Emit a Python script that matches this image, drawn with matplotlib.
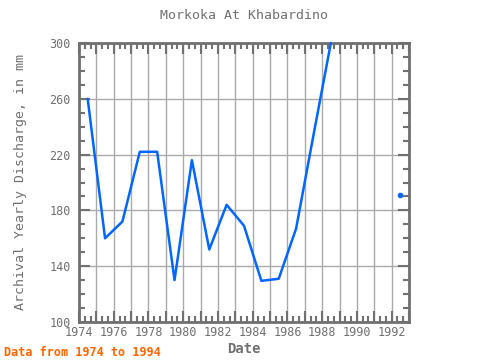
import numpy as np
import matplotlib
matplotlib.use("Agg")
from matplotlib import pyplot as plt
from matplotlib.ticker import MultipleLocator

# yearly values, plotted at mid-year
years = [1974, 1975, 1976, 1977, 1978, 1979, 1980, 1981, 1982, 1983,
         1984, 1985, 1986, 1987, 1988, 1989, 1990, 1991, 1992]
discharge = [260, 160, 172, 222, 222, 130, 216, 152, 184, 169,
             129.5, 131, 167, 234, 300, np.nan, np.nan, np.nan, 191]

x_ticks = [1974, 1976, 1978, 1980, 1982, 1984, 1986, 1988, 1990, 1992]
y_ticks = [100, 140, 180, 220, 260, 300]

gray = '#707070'
blue = '#0066ff'
plt.rcParams['font.family'] = ['DejaVu Sans Mono']

fig = plt.figure(figsize=(4.8, 3.6), dpi=100)
ax = fig.add_axes([79/480, 1 - 322/360, 330/480, 279/360])

x = np.array(years) + 0.5
y = np.array(discharge, dtype=float)
ax.plot(x, y, color=blue, linewidth=1.8, solid_capstyle='round', clip_on=False, zorder=3)

# isolated values get a dot
for i in range(len(y)):
    left = np.isnan(y[i-1]) if i > 0 else True
    right = np.isnan(y[i+1]) if i < len(y) - 1 else True
    if not np.isnan(y[i]) and left and right:
        ax.plot(x[i], y[i], 'o', color=blue, markersize=3, zorder=3)

ax.set_xlim(1974, 1993)
ax.set_ylim(100, 300)
ax.set_xticks(range(1974, 1994))
ax.set_xticklabels([str(t) if t in x_ticks else '' for t in range(1974, 1994)])
ax.xaxis.set_minor_locator(MultipleLocator(1/3))
ax.set_yticks(y_ticks)
ax.yaxis.set_minor_locator(MultipleLocator(10))

ax.grid(True, which='major', color='#aaaaaa', linewidth=1)

ax.tick_params(which='both', direction='in', top=True, right=True, colors=gray,
               labelsize=8.5, labelcolor=gray)
ax.tick_params(which='major', length=8, width=1.5)
ax.tick_params(which='minor', length=4, width=1.5)
ax.tick_params(axis='y', which='major', pad=6)
ax.tick_params(axis='x', which='major', pad=3)
for s in ax.spines.values():
    s.set_color(gray)
    s.set_linewidth(2)

ax.set_title('Morkoka At Khabardino', color=gray, fontsize=9.5, pad=17)
ax.set_xlabel('Date', color=gray, fontsize=10, fontweight='bold', labelpad=2)
ax.set_ylabel('Archival Yearly Discharge, in mm', color=gray, fontsize=9.5, labelpad=16)
fig.text(4/480, 1 - 352/360, 'Data from 1974 to 1994', color='#ff6600',
         fontsize=8.5, fontweight='bold', va='center', ha='left')

fig.savefig('out.png', dpi=100)
